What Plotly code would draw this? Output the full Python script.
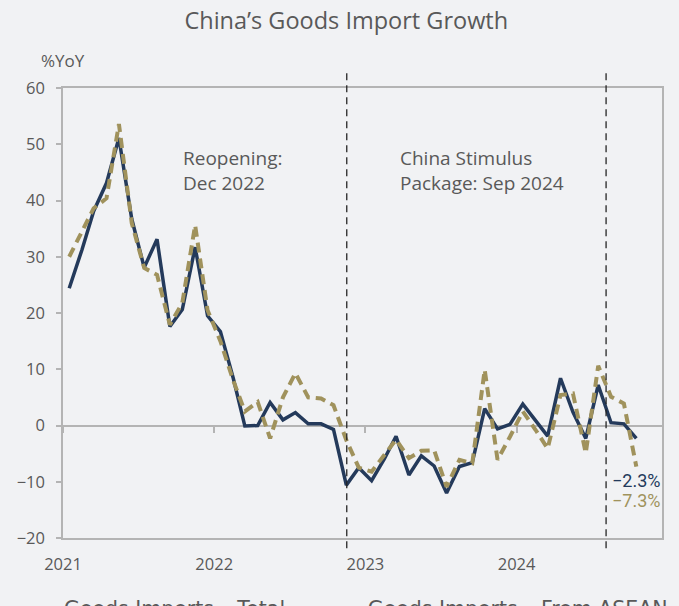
import pandas as pd
import plotly.graph_objects as go

# Monthly observations, Jan 2021 - Oct 2024 (plotted mid-month)
months = pd.date_range("2021-01-01", "2024-10-01", freq="MS") + pd.Timedelta(days=15)

# Year-on-year growth of goods imports, %
imports_total = [
    24.4, 31.3, 38.1, 43.1, 51.1, 36.7, 28.1, 33.1, 17.6, 20.6, 31.7, 19.5,
    16.7, 8.4, -0.1, 0.0, 4.1, 1.0, 2.3, 0.3, 0.3, -0.7, -10.6, -7.5,
    -9.8, -5.9, -1.9, -8.8, -5.4, -7.2, -12.0, -7.3, -6.6, 3.0, -0.6, 0.2,
    3.8, 0.9, -1.9, 8.4, 2.4, -2.3, 7.2, 0.5, 0.3, -2.3,
]
imports_asean = [
    30.0, 34.5, 38.6, 40.4, 53.6, 36.0, 28.0, 26.8, 17.9, 21.8, 35.6, 20.5,
    15.0, 8.0, 2.5, 4.2, -2.3, 5.0, 9.3, 5.0, 4.8, 3.6, -2.6, -7.5,
    -8.2, -5.2, -2.5, -5.8, -4.5, -4.4, -10.9, -6.1, -6.7, 9.9, -6.1, -2.0,
    2.5, -0.8, -4.1, 5.4, 5.7, -4.9, 10.6, 5.1, 3.9, -7.3,
]
series_names = ["Goods Imports – Total", "Goods Imports – From ASEAN"]

# Policy events marked with vertical dashed lines
event_dates = ["2022-11-17", "2024-08-04"]
event_labels = ["Reopening:<br>Dec 2022", "China Stimulus<br>Package: Sep 2024"]

year_ticks = ["2021-01-01", "2022-01-01", "2023-01-01", "2024-01-01"]
x_range = ["2021-01-01", "2024-12-17"]

NAVY = "#243a5b"
GOLD = "#a0925c"
GREY_TXT = "#595959"
AXIS = "#b4b4b4"
BG = "#f1f2f4"
FONT = "Open Sans"

fig = go.Figure()
fig.add_trace(go.Scatter(
    x=months, y=imports_total, name=series_names[0], mode="lines",
    line=dict(color=NAVY, width=3.5), legend="legend",
))
fig.add_trace(go.Scatter(
    x=months, y=imports_asean, name=series_names[1], mode="lines",
    xaxis="x2", legend="legend2",
    line=dict(color=GOLD, width=4, dash="10px,6px"),
))

for d in event_dates:
    fig.add_shape(type="line", xref="x", yref="paper", x0=d, x1=d,
                  y0=-0.023, y1=1.033,
                  line=dict(color="#262626", width=1.3, dash="7px,5px"))

label_x = [0.197, 0.560]
for lx, txt in zip(label_x, event_labels):
    fig.add_annotation(xref="paper", yref="paper", x=lx, y=0.817,
                       text=txt, showarrow=False, xanchor="left", yanchor="middle",
                       align="left", font=dict(family=FONT, size=19, color=GREY_TXT))

# End-of-series value labels
fig.add_annotation(x=months[-1], y=imports_total[-1], text=f"−{abs(imports_total[-1]):.1f}%",
                   showarrow=False, yshift=-42, xanchor="center",
                   font=dict(family="Roboto", size=18, color=NAVY))
fig.add_annotation(x=months[-1], y=imports_asean[-1], text=f"−{abs(imports_asean[-1]):.1f}%",
                   showarrow=False, yshift=-34, xanchor="center",
                   font=dict(family="Roboto", size=18, color=GOLD))

fig.add_annotation(xref="paper", yref="paper", x=-0.04, y=1.062, text="%YoY",
                   showarrow=False, xanchor="left", yanchor="middle",
                   font=dict(family=FONT, size=17, color=GREY_TXT))

legend_style = dict(orientation="h", xanchor="left", y=-0.112, yanchor="top",
                    font=dict(family="DejaVu Sans", size=20.5, color=GREY_TXT),
                    bgcolor="rgba(0,0,0,0)")

fig.update_layout(
    width=679, height=606,
    paper_bgcolor=BG, plot_bgcolor=BG,
    margin=dict(l=63, r=17, t=88, b=68, autoexpand=False),
    title=dict(text="China’s Goods Import Growth", x=0.51, xanchor="center",
               y=0.966, yanchor="middle", yref="container",
               font=dict(family=FONT, size=23.5, color=GREY_TXT)),
    font=dict(family=FONT, size=16, color=GREY_TXT),
    showlegend=True,
    legend=dict(x=-0.065, **legend_style),
    legend2=dict(x=0.442, **legend_style),
    xaxis=dict(type="date", range=x_range, tickvals=year_ticks, tickformat="%Y",
               ticks="", showgrid=False, zeroline=False,
               showline=True, linecolor=AXIS, linewidth=1.5, mirror=True,
               ticklabelstandoff=10,
               tickfont=dict(family=FONT, size=16.5, color=GREY_TXT)),
    xaxis2=dict(type="date", range=x_range, overlaying="x", anchor="free",
                position=0.2493, tickvals=year_ticks, ticks="outside", ticklen=6,
                tickwidth=1.5, tickcolor=AXIS, showticklabels=False,
                showgrid=False, zeroline=False, showline=False),
    yaxis=dict(range=[-20, 60], dtick=10, showgrid=False,
               zeroline=True, zerolinecolor=AXIS, zerolinewidth=1.5,
               showline=True, linecolor=AXIS, linewidth=1.5, mirror=True,
               ticks="outside", ticklen=5, tickcolor=AXIS, tickwidth=1.5,
               ticklabelstandoff=8,
               tickfont=dict(family=FONT, size=16.5, color=GREY_TXT)),
)

fig.write_html("out.html")
